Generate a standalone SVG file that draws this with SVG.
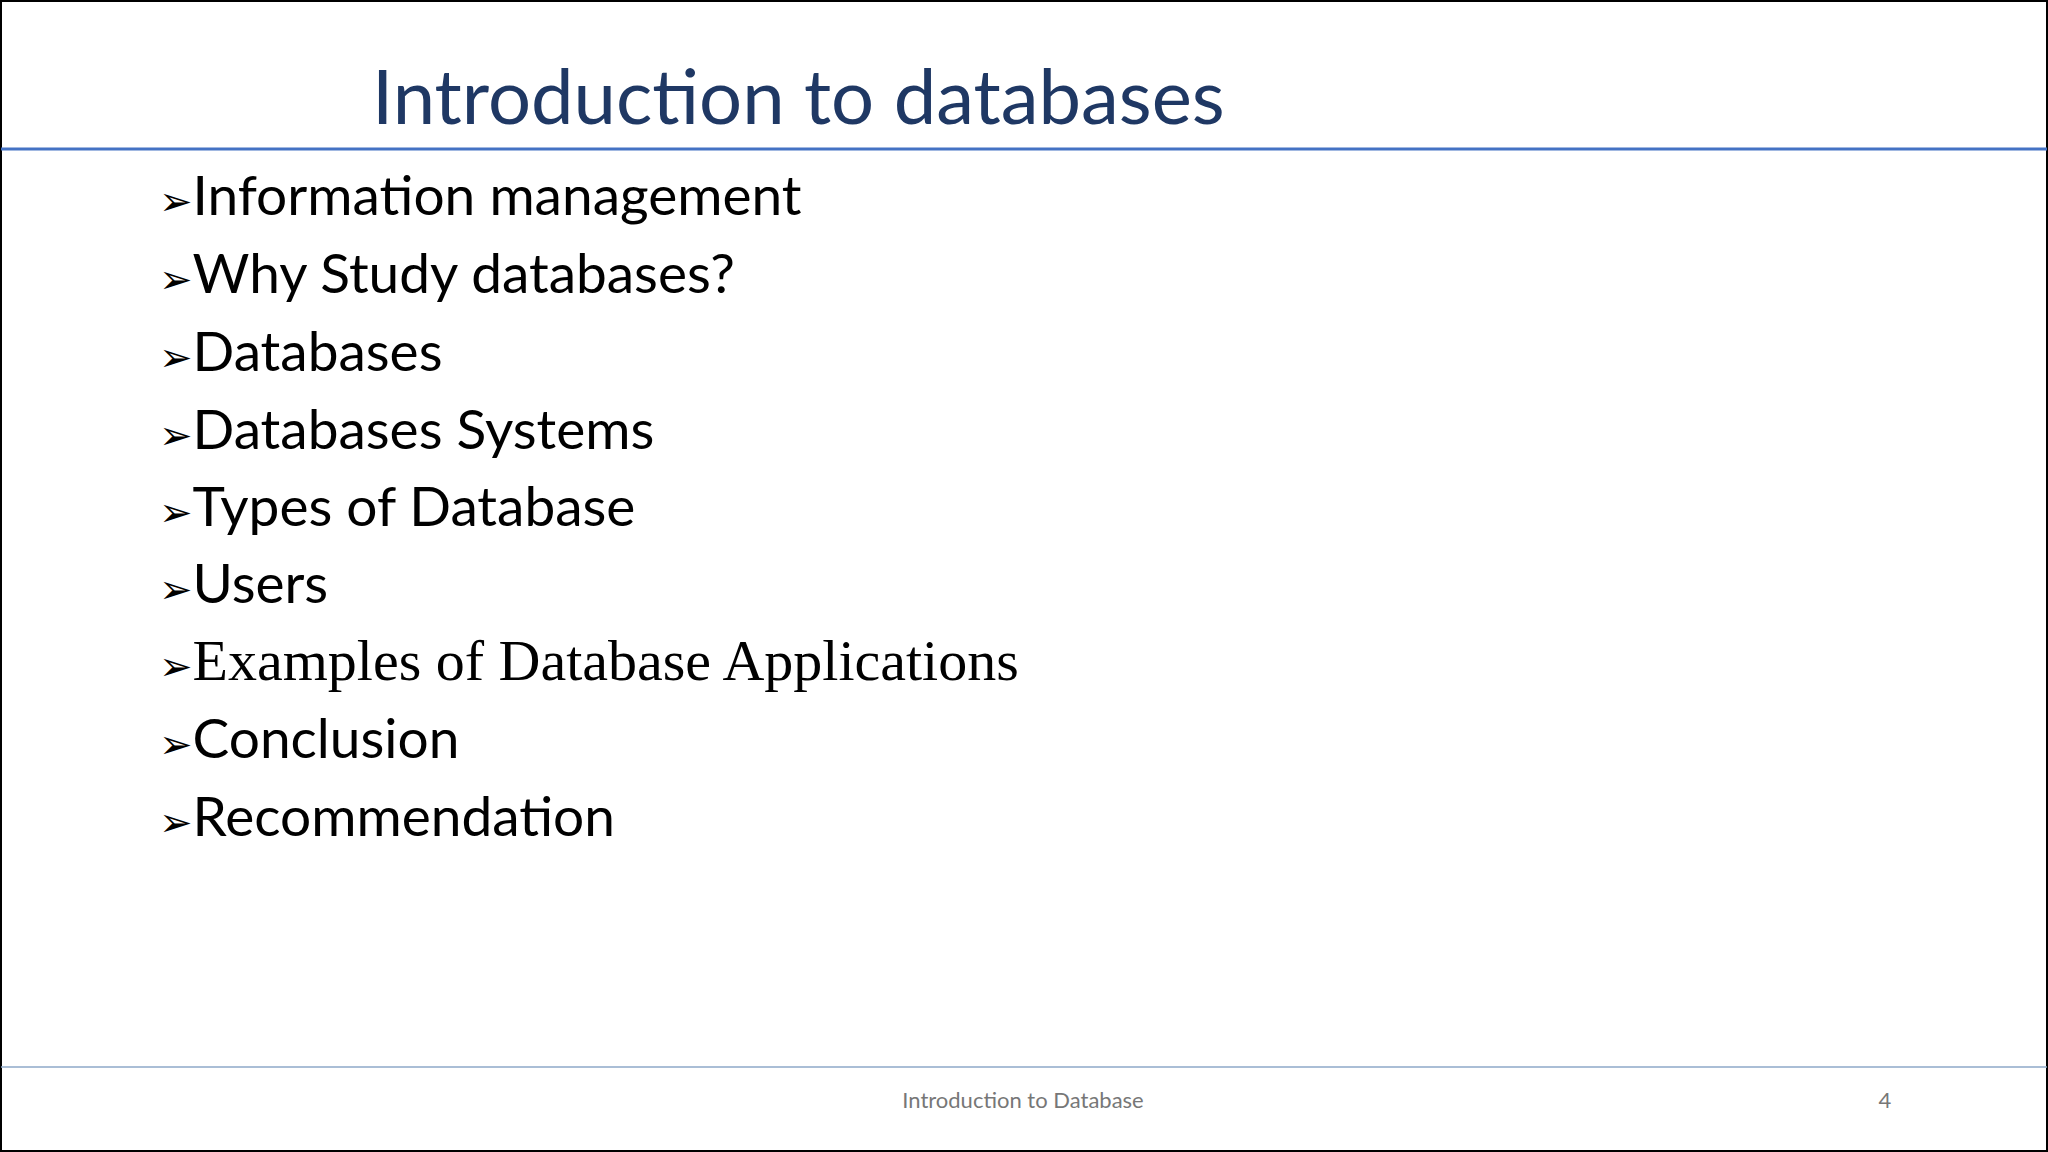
<svg xmlns="http://www.w3.org/2000/svg" width="2048" height="1152" viewBox="0 0 2048 1152">
<style>
.b{font-family:Lato,"Open Sans",sans-serif;font-size:55px;fill:#000}
.a{font-family:"DejaVu Sans",sans-serif;font-size:40px}
.s{font-family:"Liberation Serif",serif;font-size:58px}
</style>
<rect x="1" y="1" width="2046" height="1150" fill="#fff" stroke="#000" stroke-width="2"/>
<g id="title"><text x="372" y="124" font-family="Lato,'Open Sans',sans-serif" font-size="76" fill="#1F3864">Introduction to databases</text></g>
<line x1="1" y1="149" x2="2047" y2="149" stroke="#4472C4" stroke-width="3"/>
<g id="bullets">
<text class="b" x="159" y="215"><tspan class="a">➢</tspan>Information management</text>
<text class="b" x="159" y="293"><tspan class="a">➢</tspan>Why Study databases?</text>
<text class="b" x="159" y="371"><tspan class="a">➢</tspan>Databases</text>
<text class="b" x="159" y="449"><tspan class="a">➢</tspan>Databases Systems</text>
<text class="b" x="159" y="526"><tspan class="a">➢</tspan>Types of Database</text>
<text class="b" x="159" y="603"><tspan class="a">➢</tspan>Users</text>
<text class="b" x="159" y="680"><tspan class="a">➢</tspan><tspan class="s">Examples of Database Applications</tspan></text>
<text class="b" x="159" y="758"><tspan class="a">➢</tspan>Conclusion</text>
<text class="b" x="159" y="836"><tspan class="a">➢</tspan>Recommendation</text>
</g>
<line x1="1" y1="1067" x2="2047" y2="1067" stroke="#8EA9C8" stroke-width="1.5"/>
<g id="footer" font-family="Lato,'Open Sans',sans-serif" font-size="22" fill="#777">
<text x="1023" y="1108" text-anchor="middle">Introduction to Database</text>
<text x="1885" y="1108" text-anchor="middle">4</text>
</g>
</svg>
